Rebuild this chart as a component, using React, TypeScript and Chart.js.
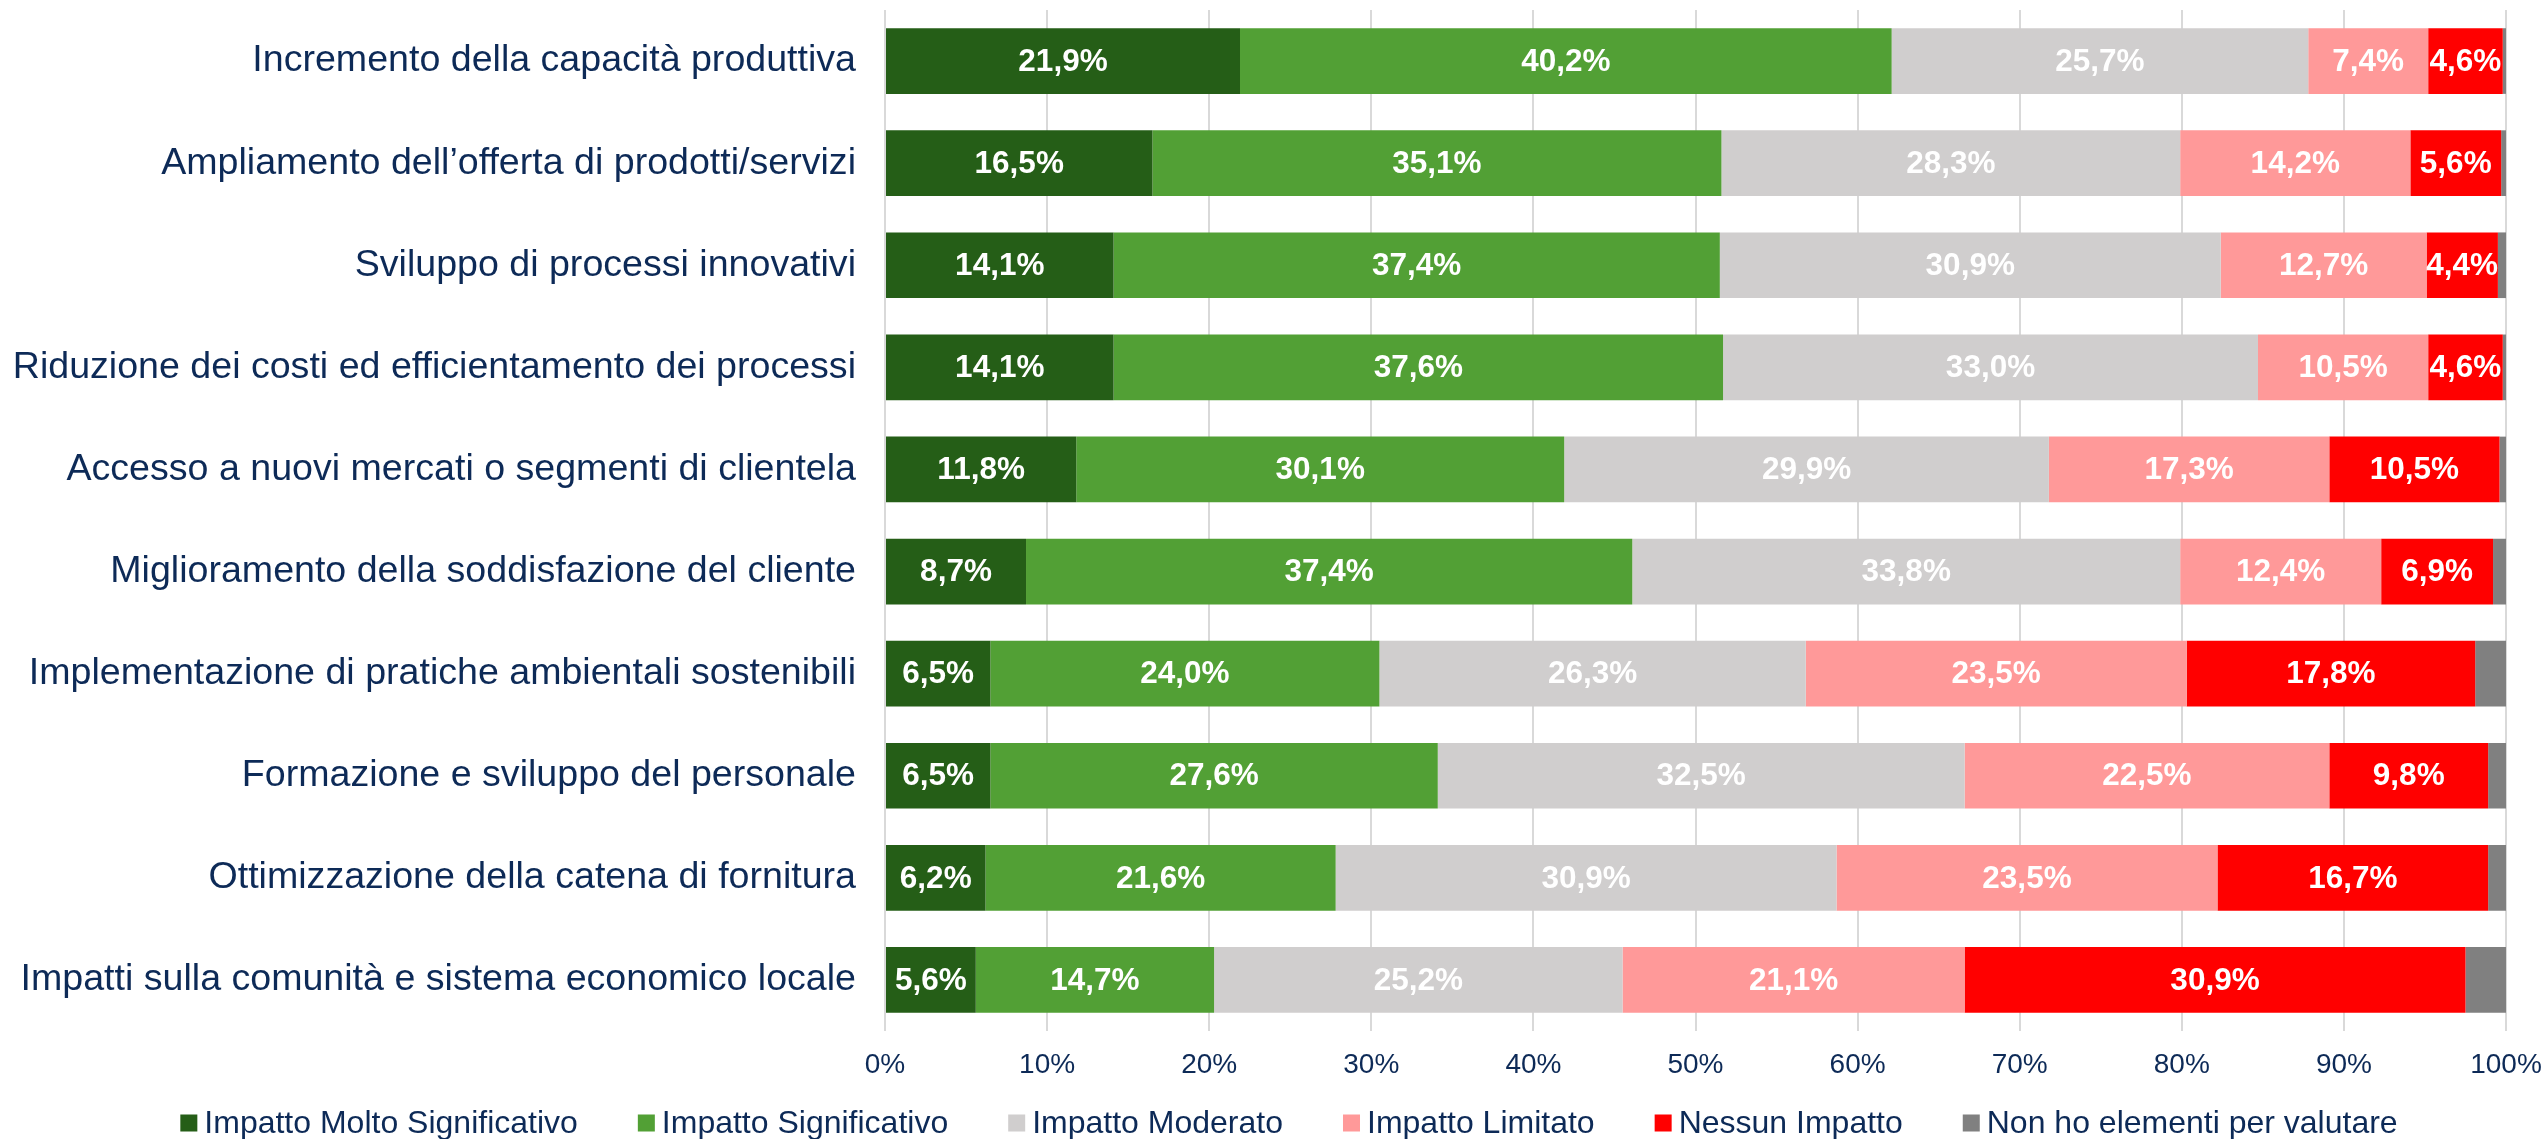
import React, { useEffect, useRef } from 'react';
import { Chart, registerables } from 'chart.js';

Chart.register(...registerables);

const FONT = "'Liberation Sans', Arial, sans-serif";
const TEXT_COLOR = '#0D2A57';

const categories = [
  'Incremento della capacità produttiva',
  'Ampliamento dell’offerta di prodotti/servizi',
  'Sviluppo di processi innovativi',
  'Riduzione dei costi ed efficientamento dei processi',
  'Accesso a nuovi mercati o segmenti di clientela',
  'Miglioramento della soddisfazione del cliente',
  'Implementazione di pratiche ambientali sostenibili',
  'Formazione e sviluppo del personale',
  'Ottimizzazione della catena di fornitura',
  'Impatti sulla comunità e sistema economico locale',
];

const seriesNames = [
  'Impatto Molto Significativo',
  'Impatto Significativo',
  'Impatto Moderato',
  'Impatto Limitato',
  'Nessun Impatto',
  'Non ho elementi per valutare',
];

const seriesColors = ['#255E17', '#52A035', '#D0CECE', '#FF9999', '#FF0000', '#808080'];

const molto = [21.9, 16.5, 14.1, 14.1, 11.8, 8.7, 6.5, 6.5, 6.2, 5.6];
const significativo = [40.2, 35.1, 37.4, 37.6, 30.1, 37.4, 24.0, 27.6, 21.6, 14.7];
const moderato = [25.7, 28.3, 30.9, 33.0, 29.9, 33.8, 26.3, 32.5, 30.9, 25.2];
const limitato = [7.4, 14.2, 12.7, 10.5, 17.3, 12.4, 23.5, 22.5, 23.5, 21.1];
const nessuno = [4.6, 5.6, 4.4, 4.6, 10.5, 6.9, 17.8, 9.8, 16.7, 30.9];
const nonHo = [0.2, 0.3, 0.5, 0.2, 0.4, 0.8, 1.9, 1.1, 1.1, 2.5];

const seriesValues = [molto, significativo, moderato, limitato, nessuno, nonHo];
const labelledSeries = [0, 1, 2, 3, 4];

const xTicks = [0, 10, 20, 30, 40, 50, 60, 70, 80, 90, 100];

const fmt = (v: number) => v.toFixed(1).replace('.', ',') + '%';

const dataLabelPlugin = {
  id: 'segmentLabels',
  afterDatasetsDraw(chart: any) {
    const ctx = chart.ctx;
    ctx.save();
    ctx.font = `bold 31.5px ${FONT}`;
    ctx.fillStyle = '#FFFFFF';
    ctx.textAlign = 'center';
    ctx.textBaseline = 'middle';
    labelledSeries.forEach((di) => {
      const meta = chart.getDatasetMeta(di);
      if (meta.hidden) return;
      meta.data.forEach((el: any, i: number) => {
        const v = chart.data.datasets[di].data[i];
        const c = el.getCenterPoint();
        ctx.fillText(fmt(v), c.x, c.y + 1);
      });
    });
    ctx.restore();
  },
};

const legendPlugin = {
  id: 'bottomLegend',
  afterDraw(chart: any) {
    const ctx = chart.ctx;
    ctx.save();
    ctx.font = `32px ${FONT}`;
    ctx.textBaseline = 'middle';
    ctx.textAlign = 'left';
    const box = 17;
    const gapText = 7;
    const gapItem = 60;
    const items = chart.data.datasets.map((d: any) => ({
      label: d.label,
      color: d.backgroundColor,
      w: ctx.measureText(d.label).width,
    }));
    const total =
      items.reduce((s: number, it: any) => s + box + gapText + it.w, 0) + gapItem * (items.length - 1);
    let x = chart.width / 2 + 16 - total / 2;
    const y = chart.height - 16;
    items.forEach((it: any) => {
      ctx.fillStyle = it.color;
      ctx.fillRect(x, y - box / 2, box, box);
      ctx.fillStyle = TEXT_COLOR;
      ctx.fillText(it.label, x + box + gapText, y + 1);
      x += box + gapText + it.w + gapItem;
    });
    ctx.restore();
  },
};

export default function App() {
  const ref = useRef<HTMLCanvasElement>(null);

  useEffect(() => {
    if (!ref.current) return;
    const chart = new Chart(ref.current, {
      type: 'bar',
      data: {
        labels: categories,
        datasets: seriesNames.map((name, i) => ({
          label: name,
          data: seriesValues[i],
          backgroundColor: seriesColors[i],
          borderWidth: 0,
          barPercentage: 0.643,
          categoryPercentage: 1,
        })),
      },
      options: {
        indexAxis: 'y',
        animation: false,
        responsive: true,
        maintainAspectRatio: false,
        layout: { padding: { top: 10, right: 40, bottom: 58, left: 0 } },
        plugins: {
          legend: { display: false },
          tooltip: { enabled: false },
        },
        scales: {
          x: {
            stacked: true,
            min: 0,
            max: 100,
            afterBuildTicks: (scale: any) => {
              scale.ticks = xTicks.map((v) => ({ value: v }));
            },
            grid: { color: '#D9D9D9', lineWidth: 2, drawTicks: false },
            border: { display: false },
            ticks: {
              padding: 17,
              color: TEXT_COLOR,
              font: { family: FONT, size: 28 },
              callback: (v: any) => v + '%',
              maxRotation: 0,
            },
            afterFit: (scale: any) => {
              scale.height = 50;
              scale.paddingLeft = 0;
              scale.paddingRight = 0;
            },
          },
          y: {
            stacked: true,
            grid: { display: false, drawTicks: false },
            border: { display: false },
            ticks: {
              padding: 29,
              color: TEXT_COLOR,
              font: { family: FONT, size: 37.6 },
              autoSkip: false,
            },
            afterFit: (scale: any) => {
              scale.width = 885;
              scale.paddingTop = 0;
              scale.paddingBottom = 0;
            },
          },
        },
      },
      plugins: [dataLabelPlugin, legendPlugin],
    });
    return () => chart.destroy();
  }, []);

  return (
    <div style={{ position: 'fixed', left: 0, top: 0, width: 2546, height: 1139, background: '#fff' }}>
      <canvas ref={ref} />
    </div>
  );
}
